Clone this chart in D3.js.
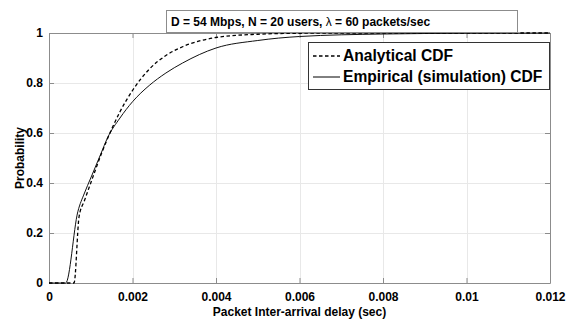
<!DOCTYPE html>
<html>
<head>
<meta charset="utf-8">
<script src="https://cdn.jsdelivr.net/npm/d3@7"></script>
<style>
  body { margin: 0; background: #fff; }
  svg text { font-family: "Liberation Sans", Arial, sans-serif; font-weight: bold; fill: #000; }
  .grid line { stroke: #e8e8e8; stroke-width: 1; }
</style>
</head>
<body>
<svg id="chart" width="574" height="323"></svg>
<script>
// values (x in seconds, y = probability)
var analyticalX = [0, 0.0006, 0.00072, 0.00085, 0.001, 0.00125, 0.0015, 0.0017, 0.002, 0.0024, 0.0028, 0.0032, 0.004, 0.005, 0.006, 0.008, 0.012];
var analyticalY = [0, 0, 0.265, 0.33, 0.40, 0.515, 0.615, 0.685, 0.77, 0.855, 0.91, 0.945, 0.982, 0.995, 0.999, 1, 1];

var empiricalX = [0, 0.0004, 0.00069, 0.00085, 0.001, 0.00125, 0.0014, 0.0017, 0.002, 0.0024, 0.0028, 0.0032, 0.004, 0.005, 0.006, 0.008, 0.01, 0.012];
var empiricalY = [0, 0, 0.285, 0.36, 0.42, 0.52, 0.58, 0.66, 0.725, 0.79, 0.84, 0.88, 0.94, 0.97, 0.986, 0.996, 0.999, 1];

var xTicks = [0, 0.002, 0.004, 0.006, 0.008, 0.01, 0.012];
var yTicks = [0, 0.2, 0.4, 0.6, 0.8, 1];
var legendLabels = ['Analytical CDF', 'Empirical (simulation) CDF'];

var margin = {left: 49, right: 24, top: 33, bottom: 40};
var width = 574, height = 323;

var svg = d3.select('#chart');

var x = d3.scaleLinear().domain([0, 0.012]).range([margin.left, width - margin.right]);
var y = d3.scaleLinear().domain([0, 1]).range([height - margin.bottom, margin.top]);

// grid
var grid = svg.append('g').attr('class', 'grid');
grid.selectAll('.vgrid')
  .data(xTicks.slice(1, -1))
  .enter().append('line')
  .attr('x1', d => Math.round(x(d)) + 0.5)
  .attr('x2', d => Math.round(x(d)) + 0.5)
  .attr('y1', y(0))
  .attr('y2', y(1));
grid.selectAll('.hgrid')
  .data(yTicks.slice(1, -1))
  .enter().append('line')
  .attr('x1', x(0))
  .attr('x2', x(0.012))
  .attr('y1', d => Math.round(y(d)) + 0.5)
  .attr('y2', d => Math.round(y(d)) + 0.5);

// axes
var fmt = d => d === 0 ? '0' : String(+d.toFixed(3));

var xAxis = svg.append('g')
  .attr('transform', 'translate(0,' + y(0) + ')')
  .call(d3.axisBottom(x).tickValues(xTicks).tickFormat(fmt).tickSizeInner(-5).tickSizeOuter(0).tickPadding(9));
var xTop = svg.append('g')
  .attr('transform', 'translate(0,' + y(1) + ')')
  .call(d3.axisTop(x).tickValues(xTicks).tickFormat('').tickSizeInner(-5).tickSizeOuter(0));
var yAxis = svg.append('g')
  .attr('transform', 'translate(' + x(0) + ',0)')
  .call(d3.axisLeft(y).tickValues(yTicks).tickFormat(fmt).tickSizeInner(-5).tickSizeOuter(0).tickPadding(6));
var yRight = svg.append('g')
  .attr('transform', 'translate(' + x(0.012) + ',0)')
  .call(d3.axisRight(y).tickValues(yTicks).tickFormat('').tickSizeInner(-5).tickSizeOuter(0));

[xAxis, xTop, yAxis, yRight].forEach(function(g) {
  g.select('.domain').attr('stroke', '#8c8c8c');
  g.selectAll('.tick line').attr('stroke', '#8c8c8c');
  g.selectAll('.tick text').style('font-size', '12px').attr('fill', '#000');
});

// curves
var line = d3.line()
  .x(d => x(d[0]))
  .y(d => y(d[1]))
  .curve(d3.curveMonotoneX);

var analytical = analyticalX.map((v, i) => [v, analyticalY[i]]);
var empirical = empiricalX.map((v, i) => [v, empiricalY[i]]);

svg.append('path')
  .datum(empirical)
  .attr('d', line)
  .attr('fill', 'none')
  .attr('stroke', '#111')
  .attr('stroke-width', 1);

svg.append('path')
  .datum(analytical)
  .attr('d', line)
  .attr('fill', 'none')
  .attr('stroke', '#000')
  .attr('stroke-width', 1.3)
  .attr('stroke-dasharray', '3.5,2.5');

// axis labels
svg.append('text')
  .attr('x', x(0.006))
  .attr('y', 316)
  .attr('text-anchor', 'middle')
  .style('font-size', '12px')
  .text('Packet Inter-arrival delay (sec)');

svg.append('text')
  .attr('transform', 'translate(24,158) rotate(-90)')
  .attr('text-anchor', 'middle')
  .style('font-size', '12px')
  .text('Probability');

// title box
svg.append('rect')
  .attr('x', 166.5).attr('y', 10.5)
  .attr('width', 351).attr('height', 22)
  .attr('fill', '#fff')
  .attr('stroke', '#8c8c8c');

var title = svg.append('text')
  .attr('x', 171)
  .attr('y', 26)
  .style('font-size', '12px');
title.append('tspan').text('D = 54 Mbps, N = 20 users, ');
title.append('tspan').style('font-weight', 'normal').text('\u03bb');
title.append('tspan').text(' = 60 packets/sec');

// legend
var legend = svg.append('g');
legend.append('rect')
  .attr('x', 308.5).attr('y', 42.5)
  .attr('width', 241).attr('height', 47)
  .attr('fill', '#fff')
  .attr('stroke', '#333');

var rows = legend.selectAll('.legendRow')
  .data(legendLabels)
  .enter().append('g')
  .attr('transform', (d, i) => 'translate(0,' + (56 + i * 21) + ')');

rows.append('line')
  .attr('x1', 313)
  .attr('x2', 340)
  .attr('stroke', '#000')
  .attr('stroke-width', (d, i) => i === 0 ? 1.3 : 1)
  .attr('stroke-dasharray', (d, i) => i === 0 ? '3.5,2.5' : null);

rows.append('text')
  .attr('x', 343)
  .attr('dy', '0.35em')
  .style('font-size', '15.6px')
  .text(d => d);
</script>
</body>
</html>
